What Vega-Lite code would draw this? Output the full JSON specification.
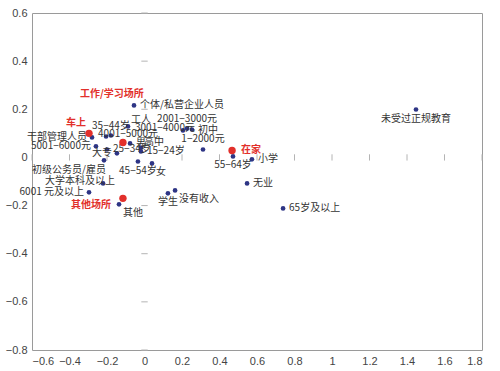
{
  "$schema": "https://vega.github.io/schema/vega-lite/v6.json",
  "width": 450,
  "height": 337,
  "autosize": {"type": "none"},
  "padding": {"left": 32, "top": 13, "right": 18, "bottom": 21},
  "config": {"view": {"stroke": "#9a9a9a", "strokeWidth": 1}, "font": "Liberation Sans"},
  "datasets": {
    "pts": [
      {"name": "个体/私营企业人员", "x": -0.056, "y": 0.216, "g": "cat", "pos": "r"},
      {"name": "工人", "x": -0.088, "y": 0.129, "g": "cat", "pos": "ar"},
      {"name": "35−44岁", "x": -0.179, "y": 0.091, "g": "cat", "pos": "a"},
      {"name": "4001−5000元", "x": -0.205, "y": 0.087, "g": "cat", "pos": "c"},
      {"name": "干部管理人员", "x": -0.28, "y": 0.083, "g": "cat", "pos": "l"},
      {"name": "5001−6000元", "x": -0.259, "y": 0.046, "g": "cat", "pos": "l"},
      {"name": "25−34岁", "x": -0.2, "y": 0.033, "g": "cat", "pos": "r"},
      {"name": "男", "x": -0.077, "y": 0.058, "g": "cat", "pos": "r"},
      {"name": "高中", "x": -0.019, "y": 0.041, "g": "cat", "pos": "ar"},
      {"name": "15−24岁", "x": -0.019, "y": 0.025, "g": "cat", "pos": "r"},
      {"name": "大专", "x": -0.147, "y": 0.017, "g": "cat", "pos": "l"},
      {"name": "初级公务员/雇员", "x": -0.216, "y": -0.012, "g": "cat", "pos": "bl"},
      {"name": "大学本科及以上", "x": -0.221, "y": -0.108, "g": "cat", "pos": "lo"},
      {"name": "6001 元及以上", "x": -0.296, "y": -0.145, "g": "cat", "pos": "l"},
      {"name": "45−54岁", "x": -0.035, "y": -0.017, "g": "cat", "pos": "b"},
      {"name": "女", "x": 0.04, "y": -0.025, "g": "cat", "pos": "br"},
      {"name": "学生", "x": 0.125, "y": -0.149, "g": "cat", "pos": "b"},
      {"name": "没有收入", "x": 0.163, "y": -0.137, "g": "cat", "pos": "br"},
      {"name": "其他", "x": -0.136, "y": -0.195, "g": "cat", "pos": "br"},
      {"name": "无业", "x": 0.547, "y": -0.108, "g": "cat", "pos": "r"},
      {"name": "65岁及以上", "x": 0.739, "y": -0.212, "g": "cat", "pos": "r"},
      {"name": "未受过正规教育", "x": 1.448, "y": 0.199, "g": "cat", "pos": "b"},
      {"name": "小学", "x": 0.573, "y": -0.008, "g": "cat", "pos": "r"},
      {"name": "55−64岁", "x": 0.472, "y": 0.004, "g": "cat", "pos": "b"},
      {"name": "1−2000元", "x": 0.312, "y": 0.033, "g": "cat", "pos": "a"},
      {"name": "2001−3000元", "x": 0.227, "y": 0.12, "g": "cat", "pos": "a"},
      {"name": "3001−4000元", "x": 0.205, "y": 0.112, "g": "cat", "pos": "lo"},
      {"name": "初中", "x": 0.253, "y": 0.116, "g": "cat", "pos": "r"},
      {"name": "车上", "x": -0.296, "y": 0.1, "g": "loc", "pos": "al"},
      {"name": "工作/学习场所", "x": -0.115, "y": 0.062, "g": "loc", "pos": "top"},
      {"name": "在家", "x": 0.467, "y": 0.029, "g": "loc", "pos": "r"},
      {"name": "其他场所", "x": -0.115, "y": -0.17, "g": "loc", "pos": "bl"}
    ],
    "tx": [{"v": -0.6}, {"v": -0.4}, {"v": -0.2}, {"v": 0.2}, {"v": 0.4}, {"v": 0.6}, {"v": 0.8}, {"v": 1.0}, {"v": 1.2}, {"v": 1.4}, {"v": 1.6}, {"v": 1.8}],
    "ty": [{"v": -0.8}, {"v": -0.6}, {"v": -0.4}, {"v": -0.2}, {"v": 0.2}, {"v": 0.4}, {"v": 0.6}]
  },
  "encoding": {
    "x": {"type": "quantitative", "scale": {"domain": [-0.6, 1.8], "nice": false, "zero": false},
      "axis": {"values": [-0.6, -0.4, -0.2, 0, 0.2, 0.4, 0.6, 0.8, 1, 1.2, 1.4, 1.6, 1.8], "format": "~g", "grid": false, "ticks": false, "domain": false, "labelColor": "#444", "labelFontSize": 11, "labelPadding": 5, "title": null, "labelFont": "Liberation Sans"}},
    "y": {"type": "quantitative", "scale": {"domain": [-0.8, 0.6], "nice": false, "zero": false},
      "axis": {"values": [-0.8, -0.6, -0.4, -0.2, 0, 0.2, 0.4, 0.6], "format": "~g", "grid": false, "ticks": false, "domain": false, "labelColor": "#444", "labelFontSize": 11, "labelPadding": 5, "title": null, "labelFont": "Liberation Sans"}}
  },
  "layer": [
    {"mark": {"type": "rule", "color": "#b4b4b4", "strokeWidth": 1}, "encoding": {"x": {"datum": 0, "type": "quantitative"}}},
    {"mark": {"type": "rule", "color": "#b4b4b4", "strokeWidth": 1}, "encoding": {"y": {"datum": 0, "type": "quantitative"}}},
    {"data": {"name": "tx"}, "mark": {"type": "rule", "color": "#b4b4b4", "strokeWidth": 1},
      "encoding": {"x": {"field": "v", "type": "quantitative"}, "y": {"datum": -0.013, "type": "quantitative"}, "y2": {"datum": 0.013}}},
    {"data": {"name": "ty"}, "mark": {"type": "rule", "color": "#b4b4b4", "strokeWidth": 1},
      "encoding": {"y": {"field": "v", "type": "quantitative"}, "x": {"datum": -0.017, "type": "quantitative"}, "x2": {"datum": 0.017}}},
    {"data": {"name": "pts"}, "transform": [{"filter": "datum.g==='cat'"}], "mark": {"type": "circle", "size": 22, "color": "#2e3585", "opacity": 1},
      "encoding": {"x": {"field": "x", "type": "quantitative"}, "y": {"field": "y", "type": "quantitative"}}},
    {"data": {"name": "pts"}, "transform": [{"filter": "datum.g==='cat' && datum.pos==='r'"}], "mark": {"type": "text", "align": "left", "baseline": "middle", "dx": 6, "dy": 0, "font": "Noto Sans CJK SC", "fontSize": 10, "color": "#333"},
      "encoding": {"x": {"field": "x", "type": "quantitative"}, "y": {"field": "y", "type": "quantitative"}, "text": {"field": "name"}}},
    {"data": {"name": "pts"}, "transform": [{"filter": "datum.g==='cat' && datum.pos==='l'"}], "mark": {"type": "text", "align": "right", "baseline": "middle", "dx": -5, "dy": 0, "font": "Noto Sans CJK SC", "fontSize": 10, "color": "#333"},
      "encoding": {"x": {"field": "x", "type": "quantitative"}, "y": {"field": "y", "type": "quantitative"}, "text": {"field": "name"}}},
    {"data": {"name": "pts"}, "transform": [{"filter": "datum.g==='cat' && datum.pos==='a'"}], "mark": {"type": "text", "align": "center", "baseline": "middle", "dx": 0, "dy": -10, "font": "Noto Sans CJK SC", "fontSize": 10, "color": "#333"},
      "encoding": {"x": {"field": "x", "type": "quantitative"}, "y": {"field": "y", "type": "quantitative"}, "text": {"field": "name"}}},
    {"data": {"name": "pts"}, "transform": [{"filter": "datum.g==='cat' && datum.pos==='b'"}], "mark": {"type": "text", "align": "center", "baseline": "middle", "dx": 0, "dy": 9, "font": "Noto Sans CJK SC", "fontSize": 10, "color": "#333"},
      "encoding": {"x": {"field": "x", "type": "quantitative"}, "y": {"field": "y", "type": "quantitative"}, "text": {"field": "name"}}},
    {"data": {"name": "pts"}, "transform": [{"filter": "datum.g==='cat' && datum.pos==='ar'"}], "mark": {"type": "text", "align": "left", "baseline": "middle", "dx": 3, "dy": -6, "font": "Noto Sans CJK SC", "fontSize": 10, "color": "#333"},
      "encoding": {"x": {"field": "x", "type": "quantitative"}, "y": {"field": "y", "type": "quantitative"}, "text": {"field": "name"}}},
    {"data": {"name": "pts"}, "transform": [{"filter": "datum.g==='cat' && datum.pos==='br'"}], "mark": {"type": "text", "align": "left", "baseline": "middle", "dx": 4, "dy": 9, "font": "Noto Sans CJK SC", "fontSize": 10, "color": "#333"},
      "encoding": {"x": {"field": "x", "type": "quantitative"}, "y": {"field": "y", "type": "quantitative"}, "text": {"field": "name"}}},
    {"data": {"name": "pts"}, "transform": [{"filter": "datum.g==='cat' && datum.pos==='bl'"}], "mark": {"type": "text", "align": "right", "baseline": "middle", "dx": 2, "dy": 10, "font": "Noto Sans CJK SC", "fontSize": 10, "color": "#333"},
      "encoding": {"x": {"field": "x", "type": "quantitative"}, "y": {"field": "y", "type": "quantitative"}, "text": {"field": "name"}}},
    {"data": {"name": "pts"}, "transform": [{"filter": "datum.g==='cat' && datum.pos==='lo'"}], "mark": {"type": "text", "align": "right", "baseline": "middle", "dx": 12, "dy": -2, "font": "Noto Sans CJK SC", "fontSize": 10, "color": "#333"},
      "encoding": {"x": {"field": "x", "type": "quantitative"}, "y": {"field": "y", "type": "quantitative"}, "text": {"field": "name"}}},
    {"data": {"name": "pts"}, "transform": [{"filter": "datum.g==='cat' && datum.pos==='c'"}], "mark": {"type": "text", "align": "left", "baseline": "middle", "dx": -8, "dy": -2, "font": "Noto Sans CJK SC", "fontSize": 10, "color": "#333"},
      "encoding": {"x": {"field": "x", "type": "quantitative"}, "y": {"field": "y", "type": "quantitative"}, "text": {"field": "name"}}},
    {"data": {"name": "pts"}, "transform": [{"filter": "datum.g==='loc'"}], "mark": {"type": "circle", "size": 55, "color": "#e2302b", "opacity": 1},
      "encoding": {"x": {"field": "x", "type": "quantitative"}, "y": {"field": "y", "type": "quantitative"}}},
    {"data": {"name": "pts"}, "transform": [{"filter": "datum.g==='loc' && datum.pos==='r'"}], "mark": {"type": "text", "align": "left", "baseline": "middle", "dx": 9, "dy": 0, "font": "Noto Sans CJK SC", "fontSize": 10, "fontWeight": "bold", "color": "#e2302b"},
      "encoding": {"x": {"field": "x", "type": "quantitative"}, "y": {"field": "y", "type": "quantitative"}, "text": {"field": "name"}}},
    {"data": {"name": "pts"}, "transform": [{"filter": "datum.g==='loc' && datum.pos==='al'"}], "mark": {"type": "text", "align": "right", "baseline": "middle", "dx": -3, "dy": -10, "font": "Noto Sans CJK SC", "fontSize": 10, "fontWeight": "bold", "color": "#e2302b"},
      "encoding": {"x": {"field": "x", "type": "quantitative"}, "y": {"field": "y", "type": "quantitative"}, "text": {"field": "name"}}},
    {"data": {"name": "pts"}, "transform": [{"filter": "datum.g==='loc' && datum.pos==='bl'"}], "mark": {"type": "text", "align": "right", "baseline": "middle", "dx": -12, "dy": 7, "font": "Noto Sans CJK SC", "fontSize": 10, "fontWeight": "bold", "color": "#e2302b"},
      "encoding": {"x": {"field": "x", "type": "quantitative"}, "y": {"field": "y", "type": "quantitative"}, "text": {"field": "name"}}},
    {"data": {"name": "pts"}, "transform": [{"filter": "datum.g==='loc' && datum.pos==='top'"}], "mark": {"type": "text", "align": "center", "baseline": "middle", "dx": -11, "dy": -49, "font": "Noto Sans CJK SC", "fontSize": 10, "fontWeight": "bold", "color": "#e2302b"},
      "encoding": {"x": {"field": "x", "type": "quantitative"}, "y": {"field": "y", "type": "quantitative"}, "text": {"field": "name"}}}
  ]
}
